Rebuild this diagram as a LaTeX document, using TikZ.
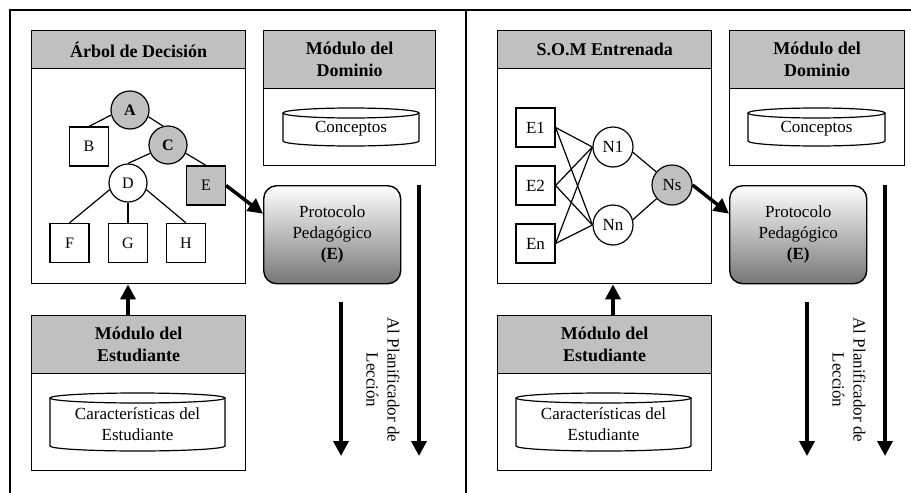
\documentclass[tikz,border=0pt]{standalone}
\usepackage{fontspec}
\setmainfont{Liberation Serif}
\usetikzlibrary{arrows.meta}
\definecolor{hdrgray}{RGB}{192,192,192}
\definecolor{protodark}{RGB}{118,118,118}
\newcommand\dbcyl[6]{%
  \pgfmathsetmacro\cxm{(#2+#3)/2}%
  \pgfmathsetmacro\crx{(#3-#2)/2}%
  \draw[cylline] (#2,#4+5) -- (#2,#5-5) arc[start angle=180,end angle=0,x radius=\crx,y radius=5] -- (#3,#4+5);
  \draw[cylline] (\cxm,#4+5) ellipse[x radius=\crx, y radius=5];
  \node[txt] (#1) at (\cxm,{(#4+#5)/2+2}) {#6};
}
\begin{document}
\begin{tikzpicture}[x=1pt,y=-1pt,
  frame/.style={line width=1.4pt},
  box/.style={draw, line width=1.4pt, fill=white, inner sep=0pt, anchor=north west},
  hdr/.style={draw, line width=1.4pt, fill=hdrgray, inner sep=0pt, anchor=north west, align=center,
              font=\fontsize{18}{22}\selectfont\bfseries},
  txt/.style={align=center, inner sep=0pt, font=\fontsize{17}{21}\selectfont},
  cylline/.style={line width=1.2pt, fill=white},
  tc/.style={circle, draw, line width=1.2pt, fill=white, minimum size=38pt, inner sep=0pt,
             font=\fontsize{16}{19}\selectfont},
  ts/.style={rectangle, draw, line width=1.2pt, fill=white, minimum size=39pt, inner sep=0pt,
             font=\fontsize{16}{19}\selectfont},
  sc/.style={circle, draw, line width=1.2pt, fill=white, minimum size=40pt, inner sep=0pt,
             font=\fontsize{17}{19}\selectfont},
  ss/.style={rectangle, draw, line width=1.2pt, fill=white, minimum size=39pt, inner sep=0pt,
             font=\fontsize{17}{19}\selectfont},
  edge/.style={line width=1.2pt},
  tharrow/.style={line width=3.5pt, -{Triangle[length=15pt,width=15pt]}},
  proto/.style={draw, line width=1.4pt, rounded corners=13pt, top color=white, bottom color=protodark,
                anchor=north west, minimum width=137pt, minimum height=98pt, align=center,
                inner sep=0pt, font=\fontsize{17}{21}\selectfont},
]
\useasboundingbox (0,0) rectangle (911,493);
% outer frame
\draw[frame] (10,493) -- (10,10) -- (911,10);
\draw[frame] (466,10) -- (466,493);

%% ---------------- LEFT PANEL ----------------
\node[box, minimum width=214pt, minimum height=253pt] (arbol) at (31,30) {};
\node[hdr, minimum width=214pt, minimum height=38pt] (arbolh) at (31,30) {Árbol de Decisión};

\node[box, minimum width=172pt, minimum height=135pt] (domL) at (263,30) {};
\node[hdr, minimum width=172pt, minimum height=58pt] (domLh) at (263,30) {Módulo del\\Dominio};
\dbcyl{concL}{283}{419}{108}{146}{Conceptos}

% tree
\node[tc, fill=hdrgray, font=\fontsize{16}{19}\selectfont\bfseries] (A) at (130,110) {A};
\node[ts] (B) at (89,146.5) {B};
\node[tc, fill=hdrgray, font=\fontsize{16}{19}\selectfont\bfseries] (C) at (168,145) {C};
\node[tc] (D) at (128,183) {D};
\node[ts, fill=hdrgray] (E) at (206,185.5) {E};
\node[ts] (F) at (69.5,243) {F};
\node[ts] (G) at (128,243) {G};
\node[ts] (H) at (186,243) {H};
\draw[edge] (A.-165) -- (B.north);
\draw[edge] (A.-20) -- (C.105);
\draw[edge] (C.-155) -- (D.north);
\draw[edge] (C.-25) -- (E.north);
\draw[edge] (D.-160) -- (F.north);
\draw[edge] (D.south) -- (G.north);
\draw[edge] (D.-20) -- (H.north);

\node[proto] (PL) at (263,185) {Protocolo\\Pedagógico\\\textbf{(E)}};
\draw[tharrow] (E.east) -- ([yshift=21pt]PL.west);

\coordinate (L1s) at (419,185);
\coordinate (L1e) at (419,456);
\coordinate (L2s) at (341,302);
\coordinate (L2e) at (341,456);
\draw[tharrow] (L1s) -- (L1e);
\draw[tharrow] (L2s) -- (L2e);
\node[txt, rotate=-90] (planL) at (383,380) {Al Planificador de\\Lección};

\node[box, minimum width=214pt, minimum height=155pt] (estL) at (31,315) {};
\node[hdr, minimum width=214pt, minimum height=58pt] (estLh) at (31,315) {Módulo del\\Estudiante};
\dbcyl{carL}{50}{225}{393}{451}{Características del\\Estudiante}
\draw[tharrow] (estLh.north -| D.south) -- (arbol.south -| D.south);

%% ---------------- RIGHT PANEL ----------------
\node[box, minimum width=214pt, minimum height=253pt] (som) at (497,30) {};
\node[hdr, minimum width=214pt, minimum height=38pt] (somh) at (497,30) {S.O.M Entrenada};

\node[box, minimum width=175pt, minimum height=135pt] (domR) at (729,30) {};
\node[hdr, minimum width=175pt, minimum height=58pt] (domRh) at (729,30) {Módulo del\\Dominio};
\dbcyl{concR}{748}{885}{108}{146}{Conceptos}

\node[ss] (E1) at (535.5,127.5) {E1};
\node[ss] (E2) at (535.5,185.5) {E2};
\node[ss] (En) at (535.5,243.5) {En};
\node[sc] (N1) at (613,147) {N1};
\node[sc] (Nn) at (613,225) {Nn};
\node[sc, fill=hdrgray] (Ns) at (672,185) {Ns};
\foreach \s in {E1,E2,En}{
  \draw[edge] (\s.east) -- (N1.west);
  \draw[edge] (\s.east) -- (Nn.west);
}
\draw[edge] (N1.-15) -- (Ns);
\draw[edge] (Nn.15) -- (Ns);

\node[proto] (PR) at (729,185) {Protocolo\\Pedagógico\\\textbf{(E)}};
\draw[tharrow] (Ns.east) -- ([yshift=21pt]PR.west);

\coordinate (R1s) at (885,185);
\coordinate (R1e) at (885,456);
\coordinate (R2s) at (807,302);
\coordinate (R2e) at (807,456);
\draw[tharrow] (R1s) -- (R1e);
\draw[tharrow] (R2s) -- (R2e);
\node[txt, rotate=-90] (planR) at (849,380) {Al Planificador de\\Lección};

\node[box, minimum width=214pt, minimum height=155pt] (estR) at (497,315) {};
\node[hdr, minimum width=214pt, minimum height=58pt] (estRh) at (497,315) {Módulo del\\Estudiante};
\dbcyl{carR}{516}{691}{393}{451}{Características del\\Estudiante}
\draw[tharrow] (estRh.north -| N1.south) -- (som.south -| N1.south);
\end{tikzpicture}
\end{document}
